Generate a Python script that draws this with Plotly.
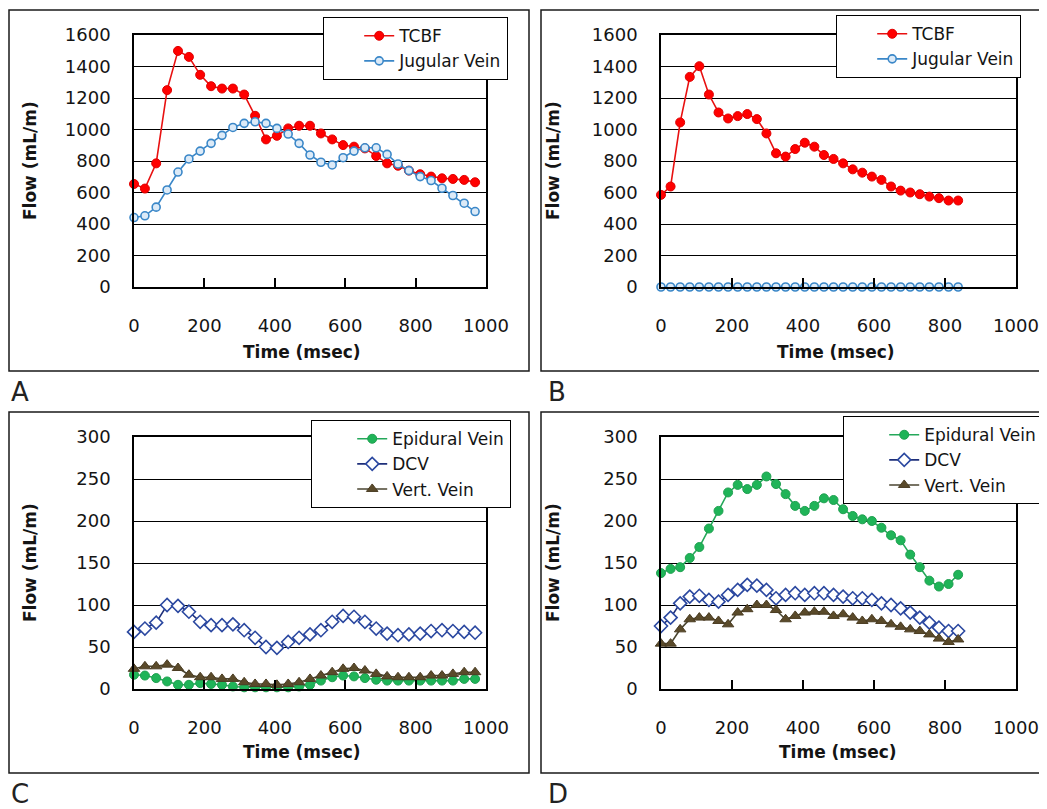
import plotly.graph_objects as go

# The page body keeps the browser's default 8px margin, so the figure is
# drawn 8px down/right; positions below are given in screenshot pixels.
OFF = 8
W, H = 1047 - OFF, 809 - OFF


def px(x):
    return (x - OFF) / W


def py(y):
    return 1 - (y - OFF) / H


# ---------------- data ----------------
time_ac = [0, 31, 63, 94, 125, 156, 188, 219, 250, 281, 313, 344, 375, 406, 438, 469,
           500, 531, 563, 594, 625, 656, 688, 719, 750, 781, 813, 844, 875, 906, 938, 969]
time_bd = [0, 27, 54, 81, 108, 135, 162, 189, 216, 243, 270, 297, 324, 351, 378, 405,
           432, 459, 486, 513, 540, 567, 594, 621, 648, 675, 702, 729, 756, 783, 810, 837]

tcbf_a = [654, 625, 785, 1250, 1499, 1461, 1347, 1275, 1260, 1260, 1222, 1087, 937, 960, 1007, 1024,
          1024, 975, 937, 901, 891, 880, 832, 785, 770, 739, 716, 701, 690, 686, 680, 665]
jugular_a = [441, 452, 507, 616, 730, 813, 863, 912, 963, 1013, 1039, 1049, 1039, 1007, 971, 912,
             838, 792, 775, 821, 863, 884, 884, 842, 781, 739, 701, 676, 627, 581, 532, 479]

tcbf_b = [585, 638, 1045, 1334, 1402, 1222, 1108, 1070, 1085, 1098, 1066, 975, 849, 828, 876, 916,
          891, 838, 813, 785, 747, 726, 701, 680, 638, 612, 600, 589, 574, 564, 549, 549]
jugular_b = [0, 0, 0, 0, 0, 0, 0, 0, 0, 0, 0, 0, 0, 0, 0, 0,
             0, 0, 0, 0, 0, 0, 0, 0, 0, 0, 0, 0, 0, 0, 0, 0]

epidural_c = [17, 16, 13, 9, 5, 5, 7, 6, 5, 3, 2, 2, 2, 2, 2, 3,
              5, 10, 14, 16, 15, 13, 11, 10, 10, 10, 10, 10, 10, 10, 12, 12]
dcv_c = [68, 72, 79, 100, 99, 92, 80, 76, 76, 77, 70, 61, 50, 49, 56, 61,
         65, 70, 80, 87, 86, 80, 72, 66, 64, 65, 66, 69, 70, 69, 68, 67]
vert_c = [24, 27, 27, 29, 25, 17, 14, 14, 12, 12, 8, 6, 6, 5, 6, 8,
          12, 16, 20, 24, 25, 22, 18, 15, 14, 14, 14, 16, 16, 18, 20, 20]

epidural_d = [138, 143, 145, 156, 169, 191, 212, 234, 243, 238, 243, 253, 244, 232, 218, 212,
              218, 227, 225, 214, 206, 202, 200, 192, 183, 177, 160, 145, 129, 122, 125, 136]
dcv_d = [75, 85, 102, 110, 111, 106, 104, 112, 118, 124, 123, 118, 108, 112, 114, 112,
         114, 114, 112, 110, 108, 108, 106, 102, 100, 96, 91, 85, 79, 73, 69, 69]
vert_d = [54, 54, 71, 83, 85, 85, 81, 77, 91, 95, 100, 100, 94, 83, 87, 91,
          92, 92, 87, 89, 85, 81, 83, 81, 77, 74, 71, 69, 65, 60, 56, 59]

x_ticks = [0, 200, 400, 600, 800, 1000]
y_ticks_top = [0, 200, 400, 600, 800, 1000, 1200, 1400, 1600]
y_ticks_bottom = [0, 50, 100, 150, 200, 250, 300]

panel_letters = ["A", "B", "C", "D"]
x_title = "Time (msec)"
y_title = "Flow (mL/m)"

# ---------------- styles ----------------
FONT = "DejaVu Sans"
TXT = "#141414"

sty = {
    "TCBF": dict(line=dict(color="#E81010", width=1.6),
                 marker=dict(symbol="circle", size=9, color="#FF0000",
                             line=dict(color="#E00000", width=1))),
    "Jugular Vein": dict(line=dict(color="#3A87C8", width=1.6),
                         marker=dict(symbol="circle", size=8, color="#DCEAF7",
                                     line=dict(color="#3A87C8", width=1.6))),
    "Epidural Vein": dict(line=dict(color="#25A85A", width=1.6),
                          marker=dict(symbol="circle", size=9, color="#1FB458",
                                      line=dict(color="#1FA050", width=1))),
    "DCV": dict(line=dict(color="#1E2F7A", width=1.6),
                marker=dict(symbol="diamond", size=10, color="#FFFFFF",
                            line=dict(color="#2B48A0", width=1.6))),
    "Vert. Vein": dict(line=dict(color="#4A4530", width=1.6),
                       marker=dict(symbol="triangle-up", size=10, color="#5A4A2A",
                                   line=dict(color="#4A3C22", width=1))),
}

fig = go.Figure()


def add(name, t, v, ax, leg):
    s = sty[name]
    fig.add_trace(go.Scatter(
        x=t, y=v, name=name, mode="lines+markers",
        line=s["line"], marker=s["marker"],
        xaxis="x" + ax, yaxis="y" + ax, legend=leg, cliponaxis=False,
    ))


add("TCBF", time_ac, tcbf_a, "", "legend")
add("Jugular Vein", time_ac, jugular_a, "", "legend")
add("TCBF", time_bd, tcbf_b, "2", "legend2")
add("Jugular Vein", time_bd, jugular_b, "2", "legend2")
add("Epidural Vein", time_ac, epidural_c, "3", "legend3")
add("DCV", time_ac, dcv_c, "3", "legend3")
add("Vert. Vein", time_ac, vert_c, "3", "legend3")
add("Epidural Vein", time_bd, epidural_d, "4", "legend4")
add("DCV", time_bd, dcv_d, "4", "legend4")
add("Vert. Vein", time_bd, vert_d, "4", "legend4")

# plot areas (screenshot pixel boxes)
areas = {
    "": (134, 486, 35, 287),
    "2": (661, 1016, 35, 287),
    "3": (134, 486, 437, 689),
    "4": (661, 1016, 437, 689),
}

layout = dict(
    width=W, height=H,
    margin=dict(l=0, r=0, t=0, b=0, autoexpand=False),
    paper_bgcolor="white", plot_bgcolor="white",
    showlegend=True,
    font=dict(family=FONT, color=TXT),
)

for ax, (x0, x1, y0, y1) in areas.items():
    top = ax in ("", "2")
    layout["xaxis" + ax] = dict(
        domain=[px(x0), px(x1)], anchor="y" + ax, range=[0, 1000],
        tickvals=x_ticks, ticktext=[str(v) for v in x_ticks],
        ticks="inside", ticklen=9, tickwidth=1.5, tickcolor="black",
        showline=True, linecolor="black", linewidth=1.5, mirror=True,
        showgrid=False, zeroline=False,
        tickfont=dict(size=18, family=FONT, color=TXT),
        ticklabelstandoff=22,
    )
    layout["yaxis" + ax] = dict(
        domain=[py(y1), py(y0)], anchor="x" + ax,
        range=[0, 1600] if top else [0, 300],
        tickvals=y_ticks_top if top else y_ticks_bottom,
        ticks="", showline=True, linecolor="black", linewidth=1.5, mirror=True,
        showgrid=True, gridcolor="black", gridwidth=1.3, zeroline=False,
        tickfont=dict(size=18, family=FONT, color=TXT),
        ticklabelstandoff=18,
    )

legend_pos = {
    "legend": (323, 17, 142, 35),
    "legend2": (836, 15, 142, 35),
    "legend3": (311, 420, 155, 40),
    "legend4": (843, 416, 155, 40),
}
for key, (lx, ly, ew, ind) in legend_pos.items():
    layout[key] = dict(
        x=px(lx), y=py(ly), xanchor="left", yanchor="top",
        xref="paper", yref="paper",
        bgcolor="white", bordercolor="black", borderwidth=1.2,
        font=dict(size=17, family=FONT, color=TXT),
        tracegroupgap=0, indentation=ind,
        entrywidth=ew, entrywidthmode="pixels",
    )

fig.update_layout(**layout)

# outer panel boxes
boxes = [(9, 529, 10, 371), (541, 1060, 10, 371), (9, 529, 412, 773), (541, 1060, 412, 773)]
for (x0, x1, y0, y1) in boxes:
    fig.add_shape(type="rect", xref="paper", yref="paper",
                  x0=px(x0), x1=px(x1), y0=py(y1), y1=py(y0),
                  line=dict(color="#1a1a1a", width=1.5), fillcolor="rgba(0,0,0,0)", layer="below")

# axis titles and panel letters
x_title_pos = [(302, 352), (836, 352), (302, 752), (838, 752)]
y_title_pos = [(30, 161), (553, 161), (30, 563), (553, 563)]
letter_pos = [(9, 392), (546, 392), (9, 794), (546, 794)]

for (tx, ty) in x_title_pos:
    fig.add_annotation(x=px(tx), y=py(ty), xref="paper", yref="paper", text="<b>" + x_title + "</b>",
                       showarrow=False, font=dict(size=17, family=FONT, color=TXT),
                       xanchor="center", yanchor="middle")
for (tx, ty) in y_title_pos:
    fig.add_annotation(x=px(tx), y=py(ty), xref="paper", yref="paper", text="<b>" + y_title + "</b>",
                       showarrow=False, textangle=-90, font=dict(size=17, family=FONT, color=TXT),
                       xanchor="center", yanchor="middle")
for (tx, ty), letter in zip(letter_pos, panel_letters):
    fig.add_annotation(x=px(tx), y=py(ty), xref="paper", yref="paper", text=letter,
                       showarrow=False, font=dict(size=26, family=FONT, color="#222"),
                       xanchor="left", yanchor="middle")

fig.write_html("out.html")
